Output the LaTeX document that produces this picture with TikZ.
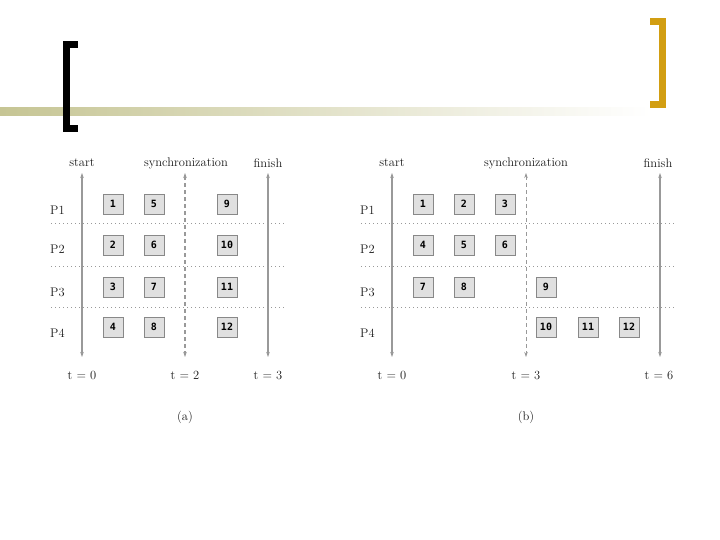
\documentclass[tikz,border=0pt]{standalone}
\usepackage{fontspec}
\setmonofont{DejaVu Sans Mono}
\usetikzlibrary{arrows.meta}
\definecolor{gold}{HTML}{D29E12}
\definecolor{band}{HTML}{C6C594}
\definecolor{boxfill}{HTML}{E0E0E0}
\definecolor{boxline}{HTML}{888888}
\definecolor{axis}{HTML}{999999}
\begin{document}
\begin{tikzpicture}[x=1pt,y=-1pt,
  taskbox/.style={draw=boxline, fill=boxfill, line width=0.9pt, minimum size=20pt, inner sep=0pt, font=\ttfamily\bfseries\fontsize{10}{10}\selectfont},
  lbl/.style={inner sep=0pt, font=\fontsize{12.5}{13}\selectfont, text=black!90},
  plbl/.style={inner sep=0pt, anchor=west, font=\fontsize{12.5}{13}\selectfont, text=black!90},
  tarrow/.style={draw=axis, line width=1.2pt, {Stealth[length=5pt,width=3.5pt]}-{Stealth[length=5pt,width=3.5pt]}},
  syncarrow/.style={tarrow, dash pattern=on 4pt off 3pt},
  rowline/.style={draw=gray!80, line width=1pt, dash pattern=on 1pt off 3pt}]
\useasboundingbox (0,0) rectangle (720,540);
% header decoration
\shade[left color=band, middle color=band!70, right color=white] (0,108) rectangle (650,116);
\fill[black] (63,41) rectangle (70,132);
\fill[black] (63,41) rectangle (78,48);
\fill[black] (63,125) rectangle (78,132);
\fill[gold] (659,18) rectangle (666,108);
\fill[gold] (650,18) rectangle (666,25);
\fill[gold] (650,101) rectangle (666,108);

% ---------------- (a) ----------------
\draw[rowline] (51,224) -- (284,224);
\draw[rowline] (51,266) -- (284,266);
\draw[rowline] (51,307) -- (284,307);
\coordinate (aSt) at (82,173); \coordinate (aSb) at (82,357);
\coordinate (aYt) at (185,173); \coordinate (aYb) at (185,357);
\coordinate (aFt) at (268,173); \coordinate (aFb) at (268,357);
\draw[tarrow] (aSt) -- (aSb);
\draw[syncarrow] (aYt) -- (aYb);
\draw[tarrow] (aFt) -- (aFb);
\node[lbl] (astart) at (82,163) {start};
\node[lbl] (async) at (186,163) {synchronization};
\node[lbl] (afinish) at (268,163) {finish};
\node[plbl] (ap1) at (50,210) {P1};
\node[plbl] (ap2) at (50,249) {P2};
\node[plbl] (ap3) at (50,292) {P3};
\node[plbl] (ap4) at (50,333) {P4};
\node[taskbox] (a1) at (113,204) {1};
\node[taskbox] (a2) at (113,245) {2};
\node[taskbox] (a3) at (113,287) {3};
\node[taskbox] (a4) at (113,327) {4};
\node[taskbox] (a5) at (154,204) {5};
\node[taskbox] (a6) at (154,245) {6};
\node[taskbox] (a7) at (154,287) {7};
\node[taskbox] (a8) at (154,327) {8};
\node[taskbox] (a9) at (227,204) {9};
\node[taskbox] (a10) at (227,245) {10};
\node[taskbox] (a11) at (227,287) {11};
\node[taskbox] (a12) at (227,327) {12};
\node[lbl] (at0) at (82,375) {t = 0};
\node[lbl] (at2) at (185,375) {t = 2};
\node[lbl] (at3) at (268,375) {t = 3};
\node[lbl] (acap) at (185,417) {(a)};

% ---------------- (b) ----------------
\draw[rowline] (361,224) -- (675,224);
\draw[rowline] (361,266) -- (675,266);
\draw[rowline] (361,307) -- (675,307);
\coordinate (bSt) at (392,173); \coordinate (bSb) at (392,357);
\coordinate (bYt) at (526,173); \coordinate (bYb) at (526,357);
\coordinate (bFt) at (660,173); \coordinate (bFb) at (660,357);
\draw[tarrow] (bSt) -- (bSb);
\draw[syncarrow, line width=0.8pt] (bYt) -- (bYb);
\draw[tarrow] (bFt) -- (bFb);
\node[lbl] (bstart) at (392,163) {start};
\node[lbl] (bsync) at (526,163) {synchronization};
\node[lbl] (bfinish) at (658,163) {finish};
\node[plbl] (bp1) at (360,210) {P1};
\node[plbl] (bp2) at (360,249) {P2};
\node[plbl] (bp3) at (360,292) {P3};
\node[plbl] (bp4) at (360,333) {P4};
\node[taskbox] (b1) at (423,204) {1};
\node[taskbox] (b2) at (464,204) {2};
\node[taskbox] (b3) at (505,204) {3};
\node[taskbox] (b4) at (423,245) {4};
\node[taskbox] (b5) at (464,245) {5};
\node[taskbox] (b6) at (505,245) {6};
\node[taskbox] (b7) at (423,287) {7};
\node[taskbox] (b8) at (464,287) {8};
\node[taskbox] (b9) at (546,287) {9};
\node[taskbox] (b10) at (546,327) {10};
\node[taskbox] (b11) at (588,327) {11};
\node[taskbox] (b12) at (629,327) {12};
\node[lbl] (bt0) at (392,375) {t = 0};
\node[lbl] (bt3) at (526,375) {t = 3};
\node[lbl] (bt6) at (659,375) {t = 6};
\node[lbl] (bcap) at (526,417) {(b)};
\end{tikzpicture}
\end{document}
